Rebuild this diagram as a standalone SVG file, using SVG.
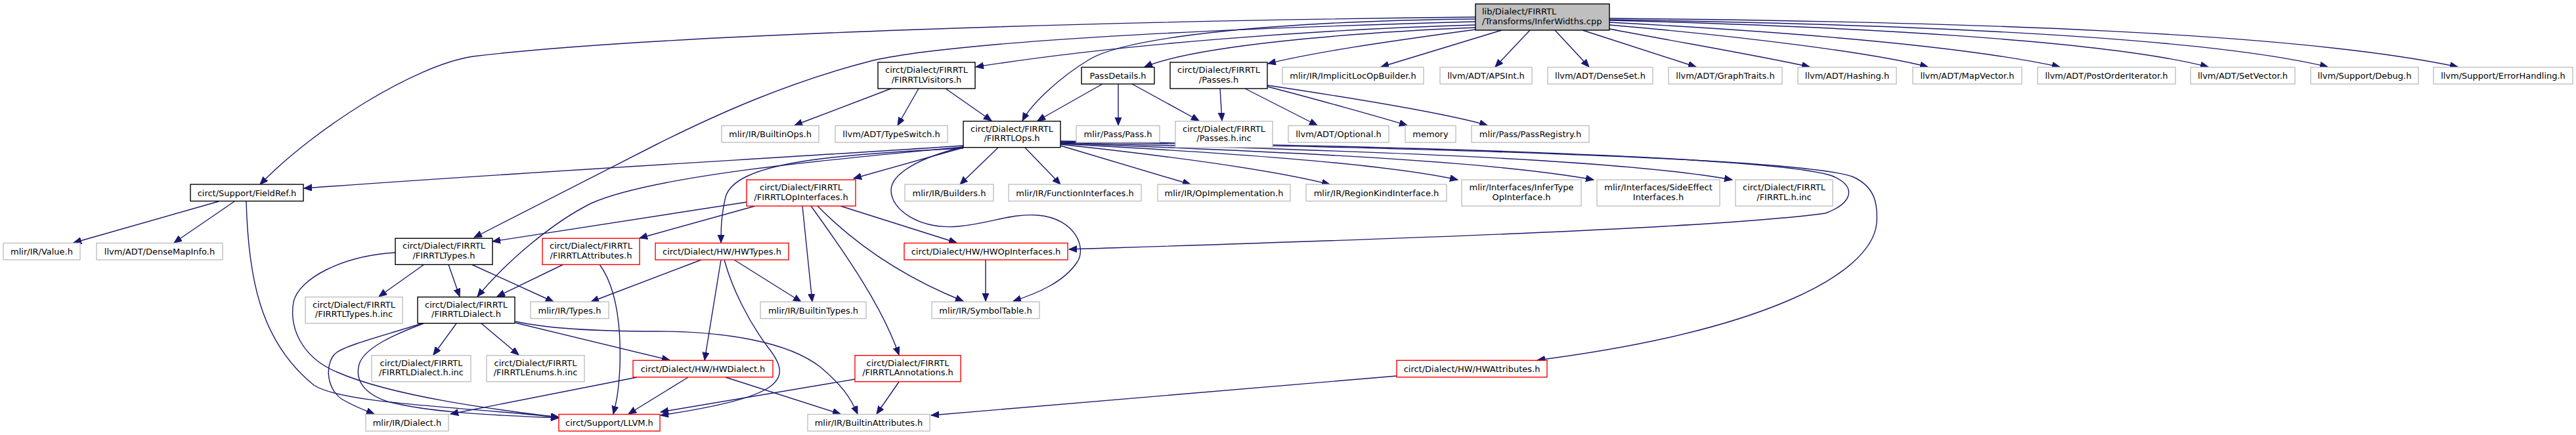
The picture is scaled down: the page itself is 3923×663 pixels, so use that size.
<svg xmlns="http://www.w3.org/2000/svg" width="3923" height="663" viewBox="0 0 3923 663">
<style>
.n rect{fill:#fff;stroke:#bfbfbf;stroke-width:1.4}
.n.b rect{stroke:#000}
.n.r rect{stroke:#ff0000}
.n.m rect{fill:#bfbfbf;stroke:#000}
text{font-family:"DejaVu Sans",sans-serif;font-size:13px;text-anchor:middle;fill:#000}
.n.m text{text-anchor:start}
#edges path{fill:none;stroke:#191970;stroke-width:1.4;marker-end:url(#ah)}
</style>
<defs>
<marker id="ah" markerUnits="userSpaceOnUse" markerWidth="14" markerHeight="11" refX="12" refY="5" orient="auto">
<path d="M0,0 L12,5 L0,10 z" fill="#191970" stroke="#191970" stroke-width="1"/>
</marker>
</defs>
<rect x="0" y="0" width="3923" height="663" fill="#fff"/>
<g id="edges">
<path d="M2247,26 C1700,32 1000,52 720,86 C630,100 480,195 396,281"/>
<path d="M2247,33 C1800,45 1450,65 1330,92 C1200,125 1090,175 1000,220 L722,362"/>
<path d="M2247,29 C1950,32 1720,55 1660,90 C1610,120 1570,160 1557,184"/>
<path d="M2247,38 C2000,45 1700,68 1486,102"/>
<path d="M2247,42 C2050,50 1820,70 1743,102"/>
<path d="M2247,45 C2100,65 2000,80 1931,97"/>
<path d="M2287,46 L2103,102"/>
<path d="M2330,46 L2277,102"/>
<path d="M2368,46 L2420,102"/>
<path d="M2410,46 L2583,102"/>
<path d="M2451,44 C2560,65 2680,85 2756,102"/>
<path d="M2451,38 C2650,55 2850,80 2936,102"/>
<path d="M2451,34 C2750,50 3000,72 3137,102"/>
<path d="M2451,31 C2800,40 3200,60 3363,102"/>
<path d="M2451,30 C2900,37 3350,55 3545,102"/>
<path d="M2451,28 C3000,33 3500,50 3743,102"/>
<path d="M1357,135 L1210,191"/>
<path d="M1399,135 L1367,191"/>
<path d="M1440,135 L1510,184"/>
<path d="M1679,128 L1580,184"/>
<path d="M1703,128 L1703,191"/>
<path d="M1724,128 L1826,184"/>
<path d="M1858,135 L1861,184"/>
<path d="M1896,135 L2006,191"/>
<path d="M1930,132 C2000,150 2100,178 2143,191"/>
<path d="M1930,130 C2050,148 2200,172 2265,191"/>
<path d="M1467,222 C1200,240 800,262 463,287"/>
<path d="M1467,224 C1300,240 1000,265 900,310 C840,340 770,400 727,452"/>
<path d="M1467,225 L1300,272"/>
<path d="M1467,226 C1250,236 1120,250 1105,300 C1098,330 1098,350 1098,370"/>
<path d="M1520,225 L1462,281"/>
<path d="M1561,225 L1615,281"/>
<path d="M1615,222 L1813,281"/>
<path d="M1615,220 C1800,240 1950,262 2025,281"/>
<path d="M1615,219 C1850,232 2100,248 2220,274"/>
<path d="M1615,218 C1900,230 2250,242 2427,274"/>
<path d="M1615,217 C2000,228 2450,240 2638,274"/>
<path d="M1615,215 C2100,222 2700,238 2790,268 C2830,285 2820,310 2780,325 C2600,350 2000,368 1628,380"/>
<path d="M1615,216 C2100,224 2750,240 2823,270 C2855,285 2860,310 2858,340 C2850,420 2680,505 2341,549"/>
<path d="M1467,224 C1400,240 1357,265 1357,290 C1357,320 1400,350 1460,345 C1510,340 1540,325 1580,328 C1640,333 1655,380 1640,400 C1620,430 1580,447 1543,459"/>
<path d="M333,307 L112,370"/>
<path d="M357,307 L265,370"/>
<path d="M375,307 C378,420 395,520 478,587 C520,615 700,620 851,636"/>
<path d="M646,403 L577,452"/>
<path d="M683,403 L700,452"/>
<path d="M718,403 L843,460"/>
<path d="M602,385 C520,390 455,425 447,460 C440,500 460,545 513,567 C600,605 760,625 851,636"/>
<path d="M858,403 L757,452"/>
<path d="M913,403 C940,440 946,500 944,560 C942,600 938,615 934,631"/>
<path d="M1068,396 L900,460"/>
<path d="M1118,396 L1220,460"/>
<path d="M1098,396 L1073,549"/>
<path d="M1103,396 C1115,440 1140,490 1170,530 C1210,580 1190,605 1006,633"/>
<path d="M1501,396 L1501,459"/>
<path d="M1137,308 L750,368"/>
<path d="M1150,314 L974,363"/>
<path d="M1222,314 L1237,460"/>
<path d="M1235,314 C1290,390 1345,470 1369,541"/>
<path d="M1245,314 C1300,370 1370,420 1467,459"/>
<path d="M1280,314 L1457,370"/>
<path d="M970,575 L686,631"/>
<path d="M1048,575 L957,631"/>
<path d="M1105,575 L1280,631"/>
<path d="M1302,578 L1006,628"/>
<path d="M1369,582 L1335,631"/>
<path d="M2127,573 L1418,633"/>
<path d="M695,493 L660,541"/>
<path d="M733,493 L790,541"/>
<path d="M642,493 C590,510 530,525 513,537 C495,550 495,590 520,608 C540,620 555,625 570,631"/>
<path d="M645,493 C600,510 555,530 547,555 C540,580 555,600 590,612 C660,630 760,633 851,637"/>
<path d="M785,492 L1020,549"/>
<path d="M785,490 C830,500 900,505 1000,505 C1100,505 1200,520 1250,560 C1280,585 1295,605 1306,631"/>
</g>
<g id="n_main" class="n m"><rect x="2247" y="6" width="204" height="40"/><text x="2257" y="22">lib/Dialect/FIRRTL</text><text x="2257" y="37">/Transforms/InferWidths.cpp</text></g>
<g id="n_visitors" class="n b"><rect x="1337" y="95" width="148" height="40"/><text x="1411" y="111">circt/Dialect/FIRRTL</text><text x="1411" y="125.7">/FIRRTLVisitors.h</text></g>
<g id="n_passdetails" class="n b"><rect x="1647" y="102.5" width="111" height="25.5"/><text x="1702.5" y="120">PassDetails.h</text></g>
<g id="n_passes" class="n b"><rect x="1782" y="95" width="148" height="40"/><text x="1856" y="111">circt/Dialect/FIRRTL</text><text x="1856" y="125.7">/Passes.h</text></g>
<g id="n_implicitloc" class="n"><rect x="1953" y="102.5" width="215" height="25.5"/><text x="2060.5" y="120">mlir/IR/ImplicitLocOpBuilder.h</text></g>
<g id="n_apsint" class="n"><rect x="2193" y="102.5" width="140" height="25.5"/><text x="2263" y="120">llvm/ADT/APSInt.h</text></g>
<g id="n_denseset" class="n"><rect x="2357" y="102.5" width="160" height="25.5"/><text x="2437" y="120">llvm/ADT/DenseSet.h</text></g>
<g id="n_graphtraits" class="n"><rect x="2541" y="102.5" width="173" height="25.5"/><text x="2627.5" y="120">llvm/ADT/GraphTraits.h</text></g>
<g id="n_hashing" class="n"><rect x="2738" y="102.5" width="150" height="25.5"/><text x="2813" y="120">llvm/ADT/Hashing.h</text></g>
<g id="n_mapvector" class="n"><rect x="2913" y="102.5" width="166" height="25.5"/><text x="2996" y="120">llvm/ADT/MapVector.h</text></g>
<g id="n_postorder" class="n"><rect x="3103" y="102.5" width="210" height="25.5"/><text x="3208" y="120">llvm/ADT/PostOrderIterator.h</text></g>
<g id="n_setvector" class="n"><rect x="3336" y="102.5" width="159" height="25.5"/><text x="3415.5" y="120">llvm/ADT/SetVector.h</text></g>
<g id="n_debug" class="n"><rect x="3519" y="102.5" width="164" height="25.5"/><text x="3601" y="120">llvm/Support/Debug.h</text></g>
<g id="n_errorhandling" class="n"><rect x="3706" y="102.5" width="212" height="25.5"/><text x="3812" y="120">llvm/Support/ErrorHandling.h</text></g>
<g id="n_builtinops" class="n"><rect x="1099" y="191.5" width="148" height="25.5"/><text x="1173" y="209">mlir/IR/BuiltinOps.h</text></g>
<g id="n_typeswitch" class="n"><rect x="1272" y="191.5" width="171" height="25.5"/><text x="1357.5" y="209">llvm/ADT/TypeSwitch.h</text></g>
<g id="n_firrtlops" class="n b"><rect x="1467" y="184.7" width="148" height="40"/><text x="1541" y="200.7">circt/Dialect/FIRRTL</text><text x="1541" y="215.4">/FIRRTLOps.h</text></g>
<g id="n_pass" class="n"><rect x="1639" y="191.5" width="127" height="25.5"/><text x="1702.5" y="209">mlir/Pass/Pass.h</text></g>
<g id="n_passesinc" class="n"><rect x="1790" y="184.7" width="148" height="40"/><text x="1864" y="200.7">circt/Dialect/FIRRTL</text><text x="1864" y="215.4">/Passes.h.inc</text></g>
<g id="n_optional" class="n"><rect x="1962" y="191.5" width="153" height="25.5"/><text x="2038.5" y="209">llvm/ADT/Optional.h</text></g>
<g id="n_memory" class="n"><rect x="2140" y="191.5" width="77" height="25.5"/><text x="2178.5" y="209">memory</text></g>
<g id="n_passregistry" class="n"><rect x="2241" y="191.5" width="179" height="25.5"/><text x="2330.5" y="209">mlir/Pass/PassRegistry.h</text></g>
<g id="n_fieldref" class="n b"><rect x="290" y="281" width="172" height="25.5"/><text x="376" y="298.5">circt/Support/FieldRef.h</text></g>
<g id="n_opinterfaces" class="n r"><rect x="1137" y="274" width="166" height="40"/><text x="1220" y="290">circt/Dialect/FIRRTL</text><text x="1220" y="304.7">/FIRRTLOpInterfaces.h</text></g>
<g id="n_builders" class="n"><rect x="1378" y="281" width="135" height="25.5"/><text x="1445.5" y="298.5">mlir/IR/Builders.h</text></g>
<g id="n_funcinterfaces" class="n"><rect x="1536" y="281" width="202" height="25.5"/><text x="1637" y="298.5">mlir/IR/FunctionInterfaces.h</text></g>
<g id="n_opimpl" class="n"><rect x="1763" y="281" width="202" height="25.5"/><text x="1864" y="298.5">mlir/IR/OpImplementation.h</text></g>
<g id="n_regionkind" class="n"><rect x="1989" y="281" width="214" height="25.5"/><text x="2096" y="298.5">mlir/IR/RegionKindInterface.h</text></g>
<g id="n_infertype" class="n"><rect x="2226" y="274" width="182" height="40"/><text x="2317" y="290">mlir/Interfaces/InferType</text><text x="2317" y="304.7">OpInterface.h</text></g>
<g id="n_sideeffect" class="n"><rect x="2432" y="274" width="187" height="40"/><text x="2525.5" y="290">mlir/Interfaces/SideEffect</text><text x="2525.5" y="304.7">Interfaces.h</text></g>
<g id="n_firrtlinc" class="n"><rect x="2643" y="274" width="148" height="40"/><text x="2717" y="290">circt/Dialect/FIRRTL</text><text x="2717" y="304.7">/FIRRTL.h.inc</text></g>
<g id="n_value" class="n"><rect x="5" y="370.5" width="117" height="25.5"/><text x="63.5" y="388">mlir/IR/Value.h</text></g>
<g id="n_densemapinfo" class="n"><rect x="147" y="370.5" width="192" height="25.5"/><text x="243" y="388">llvm/ADT/DenseMapInfo.h</text></g>
<g id="n_firrtltypes" class="n b"><rect x="602" y="363.3" width="148" height="40"/><text x="676" y="379.3">circt/Dialect/FIRRTL</text><text x="676" y="394">/FIRRTLTypes.h</text></g>
<g id="n_firrtlattrs" class="n r"><rect x="826" y="363.3" width="148" height="40"/><text x="900" y="379.3">circt/Dialect/FIRRTL</text><text x="900" y="394">/FIRRTLAttributes.h</text></g>
<g id="n_hwtypes" class="n r"><rect x="998" y="370.5" width="203" height="25.5"/><text x="1099.5" y="388">circt/Dialect/HW/HWTypes.h</text></g>
<g id="n_hwopinterfaces" class="n r"><rect x="1377" y="370.5" width="249" height="25.5"/><text x="1501.5" y="388">circt/Dialect/HW/HWOpInterfaces.h</text></g>
<g id="n_typesinc" class="n"><rect x="465" y="452.7" width="148" height="40"/><text x="539" y="468.7">circt/Dialect/FIRRTL</text><text x="539" y="483.4">/FIRRTLTypes.h.inc</text></g>
<g id="n_firrtldialect" class="n b"><rect x="636" y="452.7" width="148" height="40"/><text x="710" y="468.7">circt/Dialect/FIRRTL</text><text x="710" y="483.4">/FIRRTLDialect.h</text></g>
<g id="n_types" class="n"><rect x="808" y="460" width="119" height="25.5"/><text x="867.5" y="477.5">mlir/IR/Types.h</text></g>
<g id="n_builtintypes" class="n"><rect x="1158" y="460" width="161" height="25.5"/><text x="1238.5" y="477.5">mlir/IR/BuiltinTypes.h</text></g>
<g id="n_symboltable" class="n"><rect x="1419" y="460" width="164" height="25.5"/><text x="1501" y="477.5">mlir/IR/SymbolTable.h</text></g>
<g id="n_dialectinc" class="n"><rect x="566" y="541.7" width="151" height="40"/><text x="641.5" y="557.7">circt/Dialect/FIRRTL</text><text x="641.5" y="572.4">/FIRRTLDialect.h.inc</text></g>
<g id="n_enumsinc" class="n"><rect x="741" y="541.7" width="149" height="40"/><text x="815.5" y="557.7">circt/Dialect/FIRRTL</text><text x="815.5" y="572.4">/FIRRTLEnums.h.inc</text></g>
<g id="n_hwdialect" class="n r"><rect x="964" y="549.3" width="213" height="25.5"/><text x="1070.5" y="566.8">circt/Dialect/HW/HWDialect.h</text></g>
<g id="n_annotations" class="n r"><rect x="1302" y="541.7" width="161" height="40"/><text x="1382.5" y="557.7">circt/Dialect/FIRRTL</text><text x="1382.5" y="572.4">/FIRRTLAnnotations.h</text></g>
<g id="n_hwattributes" class="n r"><rect x="2127" y="549.3" width="229" height="25.5"/><text x="2241.5" y="566.8">circt/Dialect/HW/HWAttributes.h</text></g>
<g id="n_dialect" class="n"><rect x="557" y="631.5" width="126" height="25.5"/><text x="620" y="649">mlir/IR/Dialect.h</text></g>
<g id="n_llvm" class="n r"><rect x="851" y="631.5" width="154" height="25.5"/><text x="928" y="649">circt/Support/LLVM.h</text></g>
<g id="n_builtinattrs" class="n"><rect x="1230" y="631.5" width="186" height="25.5"/><text x="1323" y="649">mlir/IR/BuiltinAttributes.h</text></g>
</svg>
